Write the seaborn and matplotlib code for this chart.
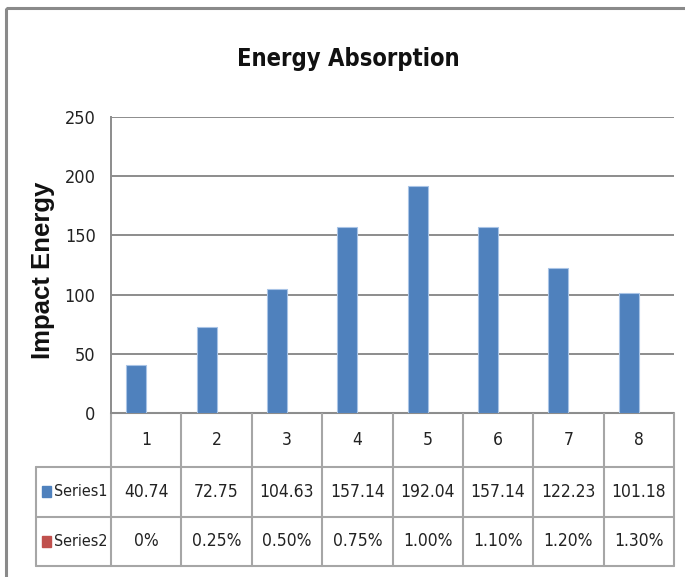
import matplotlib
matplotlib.use("Agg")
import matplotlib.pyplot as plt
from matplotlib.transforms import blended_transform_factory
from matplotlib.patches import Rectangle
import seaborn as sns
import pandas as pd

# --- data -------------------------------------------------------------
categories = ["1", "2", "3", "4", "5", "6", "7", "8"]
series1 = [40.74, 72.75, 104.63, 157.14, 192.04, 157.14, 122.23, 101.18]
series2 = [0.0, 0.0025, 0.005, 0.0075, 0.01, 0.011, 0.012, 0.013]
series_names = ["Series1", "Series2"]
y_ticks = [0, 50, 100, 150, 200, 250]

colors = {"Series1": "#4F81BD", "Series2": "#C0504D"}

df = pd.DataFrame({
    "category": categories * 2,
    "series": [series_names[0]] * len(categories) + [series_names[1]] * len(categories),
    "value": series1 + series2,
})

sns.set_theme(style="white")
plt.rcParams["font.family"] = ["DejaVu Sans"]
plt.rcParams["font.stretch"] = "condensed"

W, H = 685, 577
fig = plt.figure(figsize=(W / 100, H / 100), dpi=100)

# full-figure overlay in pixel coordinates (y downwards) for frame and table
ov = fig.add_axes([0, 0, 1, 1], zorder=0)
ov.set_xlim(0, W)
ov.set_ylim(H, 0)
ov.axis("off")

# chart frame (top and left edges visible)
ov.add_patch(Rectangle((6.5, 7.5), W + 20, H + 20, fill=False,
                       edgecolor="#8A8A8A", lw=2.2))

# plot area
x0, x1, y0, y1 = 111, 674, 117, 413
ax = fig.add_axes([x0 / W, 1 - y1 / H, (x1 - x0) / W, (y1 - y0) / H], zorder=2)
ax.patch.set_alpha(0)

sns.barplot(data=df, x="category", y="value", hue="series", order=categories,
            hue_order=series_names, palette=colors, width=0.57, dodge=True,
            saturation=1, edgecolor="#A9C4E6", linewidth=0.8, legend=False, ax=ax)

ax.set_ylim(0, 250)
ax.set_xlim(-0.5, len(categories) - 0.5)
ax.set_yticks(y_ticks)
ax.set_yticklabels([str(t) for t in y_ticks], fontsize=13, color="#222222")
ax.tick_params(axis="y", length=0, pad=11)
ax.set_xticks([])
ax.set_xlabel("")
ax.set_ylabel("")
ax.yaxis.grid(True, color="#8C8C8C", lw=1.4)
ax.set_axisbelow(True)
for s in ["top", "right", "bottom"]:
    ax.spines[s].set_visible(False)
ax.spines["left"].set_color("#8C8C8C")
ax.spines["left"].set_linewidth(1.4)

# title and axis label
ov.text(348, 59, "Energy Absorption", ha="center", va="center",
        fontsize=17, fontweight="bold", color="#111111")
ov.text(43, 270, "Impact Energy", rotation=90, ha="center", va="center",
        fontsize=18.5, fontweight="bold", family=["Liberation Sans", "DejaVu Sans"],
        fontstretch="normal", color="#111111")

# --- data table below the axis ---------------------------------------
tr = blended_transform_factory(ax.transData, ov.transData)
line_kw = dict(color="#A6A6A6", lw=1.5, zorder=3, clip_on=False)
rows_y = [413, 466.5, 517, 566]
tbl_left = 36
n = len(categories)
edges = [i - 0.5 for i in range(n + 1)]

# horizontal lines
ov.plot([x0, x1], [rows_y[0]] * 2, color="#8C8C8C", lw=1.5, zorder=3, clip_on=False)
for yy in rows_y[1:]:
    ov.plot([tbl_left, x1], [yy, yy], **line_kw)
# vertical lines at the category boundaries
for e in edges:
    ov.plot([e, e], [rows_y[0], rows_y[-1]], transform=tr, **line_kw)
ov.plot([tbl_left, tbl_left], [rows_y[1], rows_y[-1]], **line_kw)
ov.set_xlim(0, W)
ov.set_ylim(H, 0)

txt_kw = dict(ha="center", va="center", fontsize=12.5, color="#222222", transform=tr)
row_mid = [(rows_y[i] + rows_y[i + 1]) / 2 for i in range(3)]
for i, c in enumerate(categories):
    ov.text(i, row_mid[0], c, **txt_kw)
    ov.text(i, row_mid[1], f"{series1[i]:.2f}", **txt_kw)
    label2 = "0%" if series2[i] == 0 else f"{series2[i] * 100:.2f}%"
    ov.text(i, row_mid[2], label2, **txt_kw)

for name, ym in zip(series_names, row_mid[1:]):
    ov.add_patch(Rectangle((42, ym - 5.5), 9, 11, color=colors[name], zorder=3))
    ov.text(54, ym, name, ha="left", va="center", fontsize=11.5, color="#222222")

fig.savefig("out.png", dpi=100)
